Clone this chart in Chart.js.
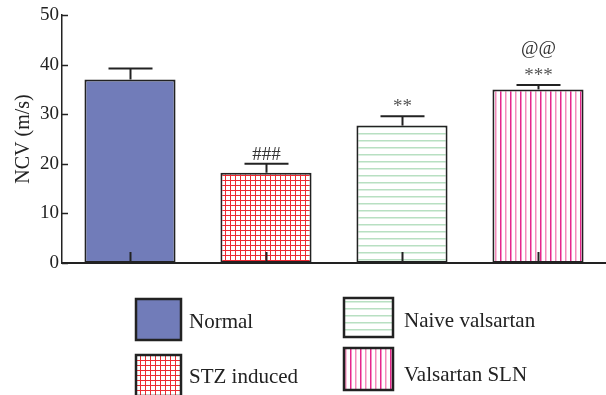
<!DOCTYPE html>
<html>
<head>
<meta charset="utf-8">
<script src="https://cdn.jsdelivr.net/npm/chart.js@4"></script>
<style>
html,body{margin:0;padding:0;background:#fff;}
#wrap{width:606px;height:395px;}
</style>
</head>
<body>
<div id="wrap"><canvas id="c" width="606" height="395"></canvas></div>
<script>
// ---- data ----
const categories = ["Normal", "STZ induced", "Naive valsartan", "Valsartan SLN"];
const ncvMeans = [37.0, 18.2, 27.7, 35.0];
const ncvErrors = [2.2, 1.8, 1.9, 0.9];
const sigLabels = [[], ["###"], ["**"], ["***", "@@"]];
const yTicks = [0, 10, 20, 30, 40, 50];

function makePattern(kind) {
  const c = document.createElement('canvas');
  const x = c.getContext('2d');
  if (kind === 'grid') {
    c.width = 5; c.height = 5;
    x.fillStyle = '#ffffff'; x.fillRect(0, 0, 5, 5);
    x.fillStyle = '#ec2a32';
    x.fillRect(0, 0, 1, 5);
    x.fillRect(0, 0, 5, 1);
  } else if (kind === 'hlines') {
    c.width = 7; c.height = 7;
    x.fillStyle = '#ffffff'; x.fillRect(0, 0, 7, 7);
    x.fillStyle = '#b8e0c2';
    x.fillRect(0, 0, 7, 1.5);
  } else if (kind === 'vlines') {
    c.width = 10; c.height = 10;
    x.fillStyle = '#ffffff'; x.fillRect(0, 0, 10, 10);
    x.fillStyle = '#e6268c';
    x.fillRect(0, 0, 1.5, 10);
    x.fillStyle = '#f48bbb';
    x.fillRect(5, 0, 1.5, 10);
  }
  return x.createPattern(c, 'repeat');
}
const fills = ['#717cb9', makePattern('grid'), makePattern('hlines'), makePattern('vlines')];

const FONT = '"Liberation Serif", "Times New Roman", serif';
const INK = '#222222';

const extras = {
  id: 'extras',
  afterDatasetsDraw(chart) {
    const ctx = chart.ctx;
    const meta = chart.getDatasetMeta(0);
    const ys = chart.scales.y;
    const area = chart.chartArea;
    ctx.save();
    // inward y ticks
    ctx.strokeStyle = INK; ctx.lineWidth = 1.5;
    yTicks.forEach(t => {
      const py = Math.round(ys.getPixelForValue(t)) + 0.5;
      ctx.beginPath(); ctx.moveTo(area.left, py); ctx.lineTo(area.left + 6, py); ctx.stroke();
    });
    meta.data.forEach((bar, i) => {
      const cx = Math.round(bar.x) + 0.5;
      const topY = ys.getPixelForValue(ncvMeans[i]);
      const errY = ys.getPixelForValue(ncvMeans[i] + ncvErrors[i]);
      ctx.strokeStyle = INK; ctx.lineWidth = 2;
      ctx.beginPath(); ctx.moveTo(cx, topY); ctx.lineTo(cx, errY); ctx.stroke();
      ctx.beginPath(); ctx.moveTo(cx - 22, errY); ctx.lineTo(cx + 22, errY); ctx.stroke();
      // stem at base
      ctx.beginPath(); ctx.moveTo(cx, area.bottom); ctx.lineTo(cx, area.bottom - 11); ctx.stroke();
      // significance labels
      ctx.textAlign = 'center'; ctx.textBaseline = 'alphabetic';
      sigLabels[i].forEach((s, k) => {
        ctx.fillStyle = s.indexOf('*') >= 0 ? '#555555' : '#333333';
        ctx.font = '19px ' + FONT;
        ctx.fillText(s, cx, errY - 4 - k * 27);
      });
    });
    ctx.restore();
  },
  afterDraw(chart) {
    const ctx = chart.ctx;
    ctx.save();
    const boxes = [
      {x: 136, y: 299, w: 45, h: 41, tx: 189, ty: 328},
      {x: 136, y: 355, w: 45, h: 41, tx: 189, ty: 383},
      {x: 344, y: 298, w: 49, h: 39, tx: 404, ty: 327},
      {x: 344, y: 348, w: 49, h: 42, tx: 404, ty: 381}
    ];
    boxes.forEach((b, i) => {
      ctx.fillStyle = fills[i];
      ctx.fillRect(b.x, b.y, b.w, b.h);
      ctx.strokeStyle = INK; ctx.lineWidth = 2.5;
      ctx.strokeRect(b.x, b.y, b.w, b.h);
      ctx.fillStyle = INK;
      ctx.font = '21px ' + FONT;
      ctx.textAlign = 'left'; ctx.textBaseline = 'alphabetic';
      ctx.fillText(categories[i], b.tx, b.ty);
    });
    ctx.restore();
  }
};

new Chart(document.getElementById('c'), {
  type: 'bar',
  data: {
    labels: categories,
    datasets: [{
      data: ncvMeans,
      backgroundColor: fills,
      borderColor: INK,
      borderWidth: 2,
      borderSkipped: false,
      categoryPercentage: 1.0,
      barPercentage: 0.67
    }]
  },
  options: {
    responsive: false,
    devicePixelRatio: 1,
    animation: false,
    layout: {padding: {top: 15, right: 0, bottom: 132, left: 0}},
    plugins: {legend: {display: false}, tooltip: {enabled: false}},
    scales: {
      x: {
        ticks: {display: false},
        grid: {display: false, drawTicks: false},
        border: {display: true, color: INK, width: 2},
        afterFit(s) { s.height = 0; }
      },
      y: {
        min: 0, max: 50,
        afterBuildTicks(s) { s.ticks = yTicks.map(v => ({value: v})); },
        ticks: {font: {family: FONT, size: 19}, color: INK, padding: 3},
        grid: {display: false, drawTicks: false},
        border: {display: true, color: INK, width: 1.5},
        title: {display: true, text: 'NCV (m/s)', font: {family: FONT, size: 20}, color: INK, padding: {top: 12, bottom: 0}},
        afterFit(s) { s.width = 62; }
      }
    }
  },
  plugins: [extras]
});
</script>
</body>
</html>
